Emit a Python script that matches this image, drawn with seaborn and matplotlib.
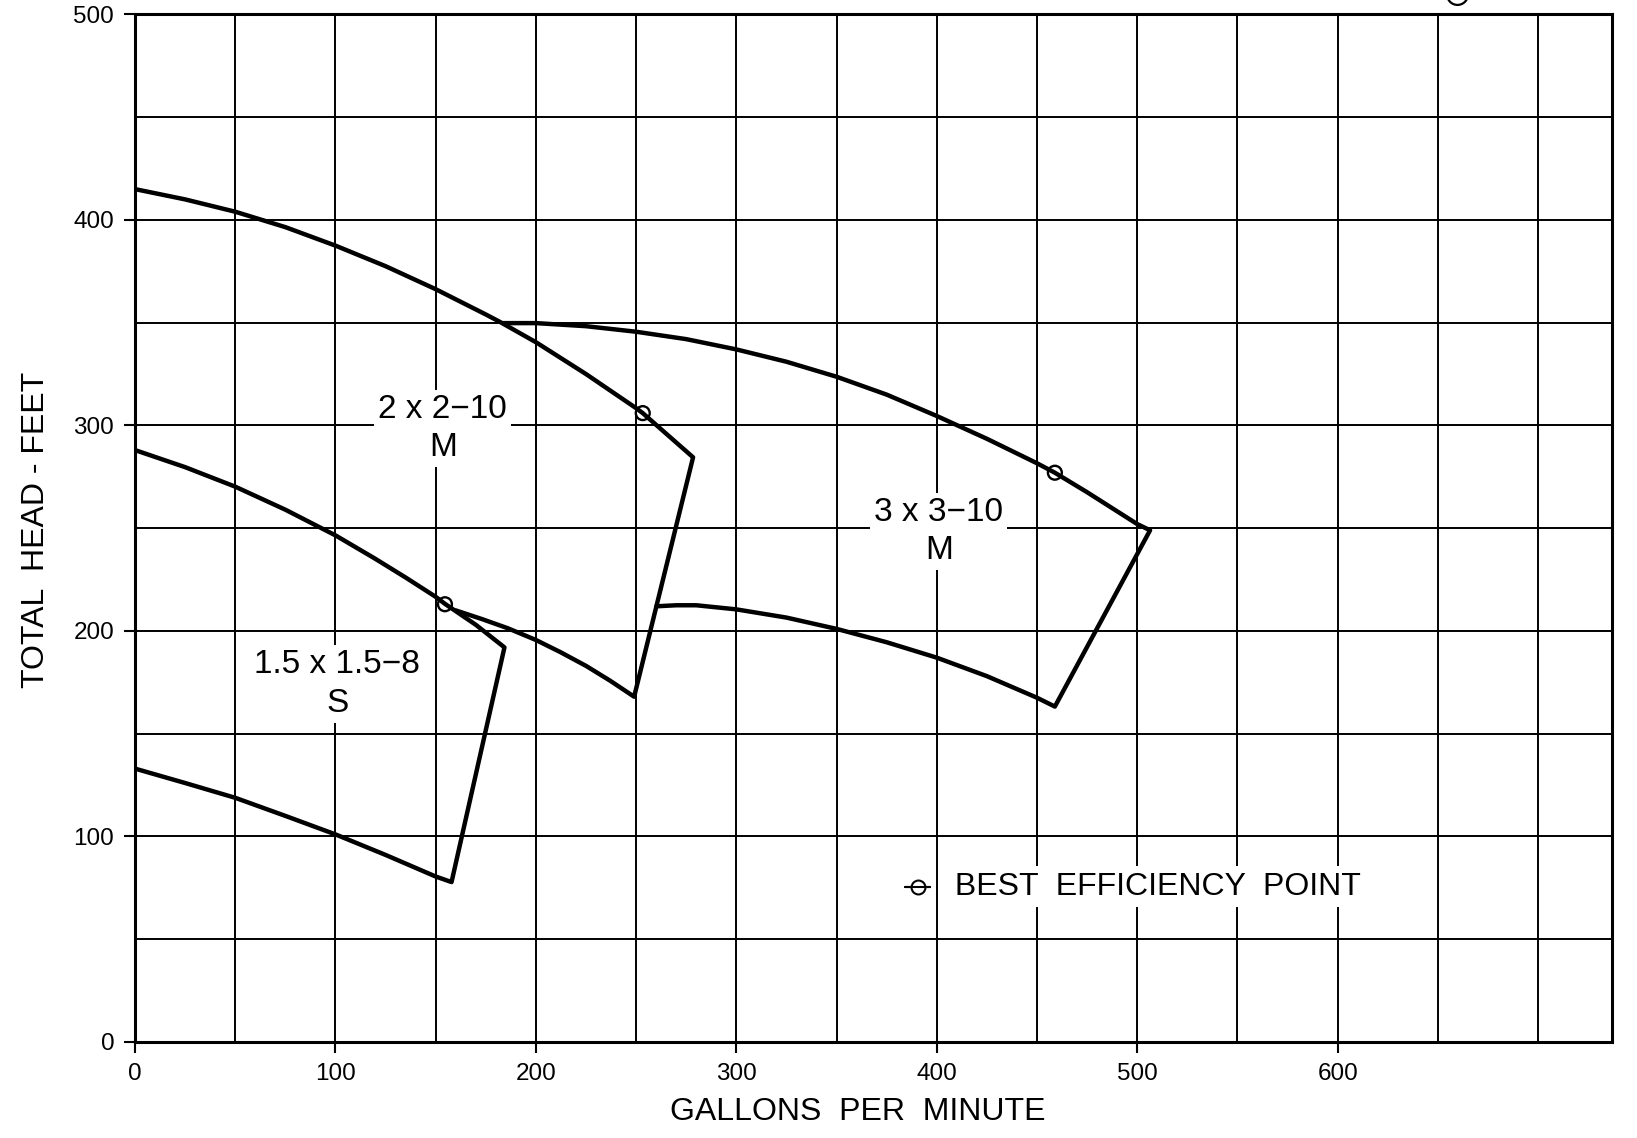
import matplotlib
matplotlib.use("Agg")
import matplotlib.pyplot as plt
import seaborn as sns
import pandas as pd

# ---------------- data ----------------
# 2 x 2-10 M : top curve -> right edge -> lower curve
gpm_2x2 = [0, 25, 50, 75, 100, 125, 150, 175, 182.4, 200, 225, 250, 253.3, 278.4,
           249, 237, 225, 212, 200, 186, 173, 160]
head_2x2 = [415, 410, 404, 396.5, 387.5, 377.5, 366.3, 354, 350.2, 340.5, 325, 308.4, 306, 284.5,
            168, 175.8, 183, 189.8, 195.6, 201.3, 205.8, 210]

# 3 x 3-10 M
gpm_3x3 = [183.7, 200, 225, 250, 275, 300, 325, 350, 375, 400, 425, 450, 458.9, 475, 500, 506.4,
           458.9, 450, 425, 400, 375, 350, 325, 300, 280, 270, 260.1]
head_3x3 = [349.8, 349.8, 348.3, 345.6, 342, 337, 331, 323.7, 315, 304.6, 293.5, 281.6, 277, 267.5, 252, 249,
            163.2, 167.5, 178, 187, 194.5, 201, 206.5, 210.5, 212.5, 212.5, 212]

# 1.5 x 1.5-8 S
gpm_15 = [0, 25, 50, 75, 100, 119.2, 135, 150, 154.6, 170, 184.3,
          157.9, 150, 125, 100, 75, 50, 25, 0]
head_15 = [288, 279.7, 270.2, 259, 246.5, 235.5, 226, 216.6, 213.2, 203, 192,
           77.8, 80.5, 91, 101, 110, 118.8, 126, 133]

# best efficiency points
bep_gpm = [253.3, 458.9, 154.6]
bep_head = [306, 277, 213]

pump_labels = ["2 x 2\u221210\nM", "3 x 3\u221210\nM", "1.5 x 1.5\u22128\nS"]
label_gpm = [153.5, 401, 100.8]
label_head = [298.5, 248.5, 174.2]

x_ticks = [0, 100, 200, 300, 400, 500, 600]
y_ticks = [0, 100, 200, 300, 400, 500]
x_minor = [50, 150, 250, 350, 450, 550, 650, 700]
y_minor = [50, 150, 250, 350, 450]

# ---------------- style ----------------
sns.set_style("ticks")
plt.rcParams['font.family'] = ['Liberation Sans', 'DejaVu Sans']
plt.rcParams['text.color'] = 'black'
plt.rcParams['axes.labelcolor'] = 'black'

fig = plt.figure(figsize=(16.37, 11.38), dpi=100)
ax = fig.add_axes([0.0825, 0.0844, 0.9024, 0.9029])

LW = 3.2
for g, h in [(gpm_2x2, head_2x2), (gpm_3x3, head_3x3), (gpm_15, head_15)]:
    df = pd.DataFrame({"gpm": g, "head": h})
    sns.lineplot(data=df, x="gpm", y="head", sort=False, estimator=None,
                 color="black", linewidth=LW, ax=ax, zorder=3)

sns.scatterplot(x=bep_gpm, y=bep_head, ax=ax, marker="o", s=100,
                facecolor="none", edgecolor="black", linewidth=1.7, zorder=4)

for txt, gx, hy in zip(pump_labels, label_gpm, label_head):
    ax.text(gx, hy, txt, ha="center", va="center", multialignment="center",
            fontsize=24, linespacing=1.3, zorder=2,
            bbox=dict(facecolor="white", edgecolor="none", pad=3))

# legend for best efficiency point
leg_head = 75.5
ax.plot([384.2, 396.8], [leg_head, leg_head], color="black", linewidth=1.5, zorder=5)
ax.plot([390.6], [leg_head], marker="o", ms=10, mfc="white", mec="black", mew=1.5, zorder=6)
ax.plot([384.2, 396.8], [leg_head, leg_head], color="black", linewidth=1.5, zorder=7)
ax.text(404.5, leg_head, " BEST  EFFICIENCY  POINT", ha="left", va="center", fontsize=23,
        zorder=2, bbox=dict(facecolor="white", edgecolor="none", pad=4))

# partial circle cut by the top edge
ax.plot([659.7], [510], marker="o", ms=15, mfc="none", mec="black", mew=1.6,
        clip_on=False)

ax.set_xlim(0, 737)
ax.set_ylim(0, 500)
ax.set_xticks(x_ticks)
ax.set_yticks(y_ticks)
ax.set_xticks(x_minor, minor=True)
ax.set_yticks(y_minor, minor=True)
ax.grid(True, which="both", color="black", linewidth=1.4, zorder=1)
ax.set_axisbelow(True)
ax.tick_params(which="major", direction="out", length=8, width=1.5,
               labelsize=17.5, pad=7, color="black", labelcolor="black")
ax.tick_params(which="minor", length=0)
for s in ax.spines.values():
    s.set_linewidth(2.2)
    s.set_color("black")
    s.set_visible(True)

ax.set_xlabel("GALLONS  PER  MINUTE", fontsize=23)
ax.set_ylabel("TOTAL  HEAD - FEET", fontsize=23)
ax.xaxis.set_label_coords(0.489, -0.054)
ax.yaxis.set_label_coords(-0.057, 0.498)

fig.savefig("out.png", dpi=100, facecolor="white")
